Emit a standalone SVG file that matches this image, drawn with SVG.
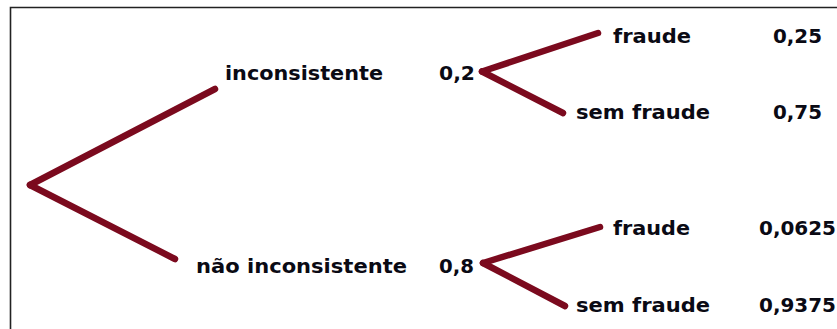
<svg xmlns="http://www.w3.org/2000/svg" width="837" height="329" viewBox="0 0 837 329">
<style>
.t{font-family:"DejaVu Sans",sans-serif;font-weight:bold;font-size:20px;fill:#0a0a14}
.b{stroke:#7b0a1e;stroke-width:6.5;stroke-linecap:round;fill:none}
</style>
<rect width="837" height="329" fill="#fff"/>
<path d="M10.5 329 V7.5 H837" fill="none" stroke="#222" stroke-width="1.6"/>
<g id="connectors">
<line class="b" x1="30" y1="185" x2="215" y2="89"/>
<line class="b" x1="30" y1="185" x2="175" y2="259"/>
<line class="b" x1="482" y1="71.5" x2="598" y2="33"/>
<line class="b" x1="482" y1="71.5" x2="563" y2="113"/>
<line class="b" x1="483" y1="263" x2="600" y2="227"/>
<line class="b" x1="483" y1="263" x2="565" y2="306"/>
</g>
<g id="n-inconsistente"><text class="t" x="225" y="80" textLength="158" lengthAdjust="spacingAndGlyphs">inconsistente</text><text class="t" x="439" y="80" textLength="36" lengthAdjust="spacingAndGlyphs">0,2</text></g>
<g id="n-nao-inconsistente"><text class="t" x="196" y="273" textLength="211" lengthAdjust="spacingAndGlyphs">não inconsistente</text><text class="t" x="439" y="273" textLength="35" lengthAdjust="spacingAndGlyphs">0,8</text></g>
<g id="n-fraude1"><text class="t" x="613" y="43" textLength="78" lengthAdjust="spacingAndGlyphs">fraude</text><text class="t" x="773" y="43" textLength="49" lengthAdjust="spacingAndGlyphs">0,25</text></g>
<g id="n-semfraude1"><text class="t" x="576" y="119" textLength="134" lengthAdjust="spacingAndGlyphs">sem fraude</text><text class="t" x="773" y="119" textLength="49" lengthAdjust="spacingAndGlyphs">0,75</text></g>
<g id="n-fraude2"><text class="t" x="613" y="235" textLength="77" lengthAdjust="spacingAndGlyphs">fraude</text><text class="t" x="759" y="235" textLength="77" lengthAdjust="spacingAndGlyphs">0,0625</text></g>
<g id="n-semfraude2"><text class="t" x="576" y="311.5" textLength="134" lengthAdjust="spacingAndGlyphs">sem fraude</text><text class="t" x="759" y="311.5" textLength="77" lengthAdjust="spacingAndGlyphs">0,9375</text></g>
</svg>
